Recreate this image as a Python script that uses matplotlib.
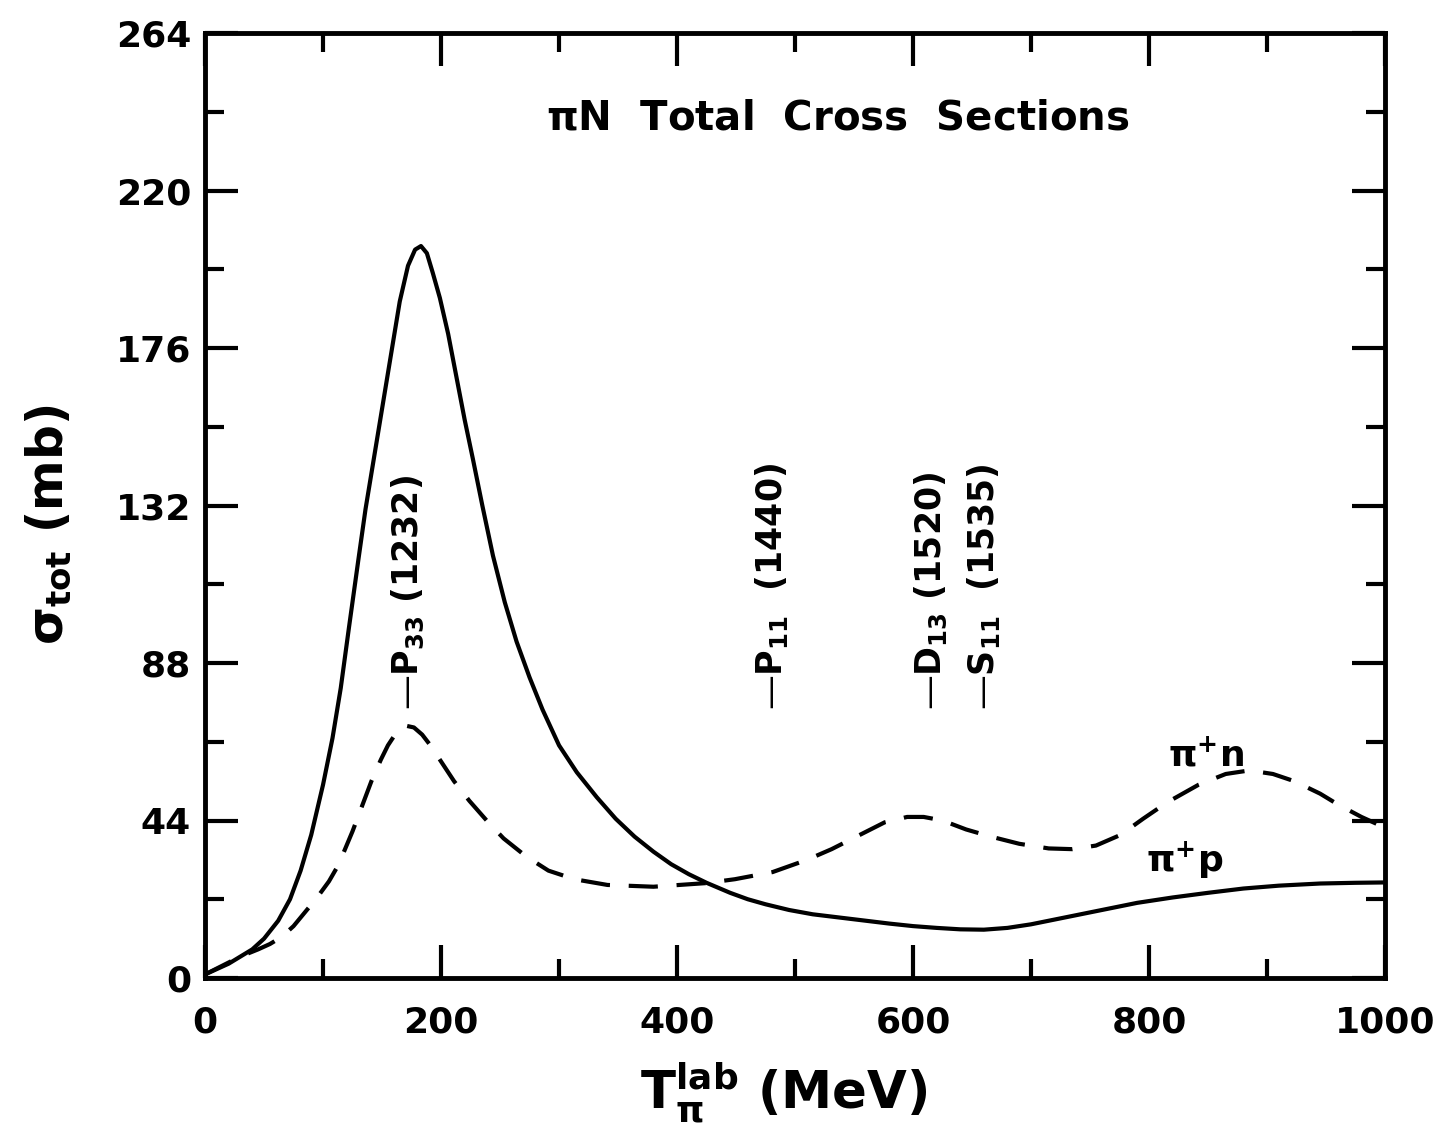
import matplotlib
matplotlib.use("Agg")
import matplotlib.pyplot as plt
from matplotlib.ticker import MultipleLocator

# pi+ p total cross section (solid)
t_pp = [0, 10, 20, 30, 40, 50, 62, 72, 81, 90, 100, 108, 115, 122, 130, 136,
        143, 150, 158, 165, 172, 178, 183, 188, 193, 199, 206, 213, 220, 227,
        235, 244, 254, 264, 275, 286, 300, 315, 332, 348, 364, 380, 395, 410,
        425, 445, 460, 475, 495, 515, 535, 560, 580, 600, 620, 640, 660, 680,
        700, 730, 760, 790, 820, 850, 880, 910, 945, 975, 1000]
sig_pp = [1, 2.5, 4, 6, 8, 11, 16, 22, 30, 40, 54, 67, 81, 98, 117, 131,
          145, 159, 175, 189, 199, 203.5, 204.5, 202.5, 197, 190, 180, 168, 156, 145,
          132, 118, 105, 94, 84, 75, 65, 57.5, 50.5, 44.5, 39.5, 35.3, 31.8, 29,
          26.6, 23.8, 22, 20.6, 19, 17.8, 17, 16, 15.2, 14.5, 14, 13.6, 13.5, 14,
          15, 17, 19, 21, 22.5, 23.8, 25, 25.8, 26.4, 26.6, 26.7]

# pi+ n total cross section (dashed)
t_pn = [0, 15, 30, 45, 55, 65, 75, 85, 95, 105, 112, 118, 125, 133, 141, 149,
        155, 162, 170, 177, 184, 191, 198, 211, 224, 240, 253, 272, 291, 313,
        341, 380, 424, 449, 481, 510, 531, 555, 576, 595, 609, 625, 645, 666,
        690, 715, 735, 755, 776, 795, 815, 842, 865, 885, 905, 923, 945, 960,
        980, 1000]
sig_pn = [1, 3.5, 6, 8, 9.5, 11.5, 14.5, 18.5, 22.5, 27, 31, 35.5, 41, 48, 55, 61,
          65, 68.5, 70.5, 70, 68, 65, 61.5, 55, 49.5, 43.5, 39, 34, 30, 27.6,
          26, 25.5, 26.5, 27.6, 29.6, 33, 36, 40, 43.5, 45, 45, 44, 41.5, 39.5,
          37.5, 36.2, 36, 37, 40, 44.5, 49, 54, 57, 58, 57, 55, 51.5, 48.5,
          45, 42]

# resonance markers
res_names = ["\u2014P$_{33}$ (1232)", "\u2014P$_{11}$  (1440)",
             "\u2014D$_{13}$ (1520)", "\u2014S$_{11}$  (1535)"]
res_t = [172, 480, 615, 660]

plt.rcParams['font.family'] = ['DejaVu Sans']
plt.rcParams['font.weight'] = 'bold'
plt.rcParams['mathtext.fontset'] = 'dejavusans'
plt.rcParams['mathtext.default'] = 'bf'

fig = plt.figure(figsize=(14.45, 11.33), dpi=100)
ax = fig.add_axes([0.1419, 0.1368, 0.8166, 0.834])

ax.plot(t_pp, sig_pp, color='black', lw=3)
ax.plot(t_pn, sig_pn, color='black', lw=3, dashes=(7, 4.5))

ax.set_xlim(0, 1000)
ax.set_ylim(0, 264)
ax.xaxis.set_major_locator(MultipleLocator(200))
ax.xaxis.set_minor_locator(MultipleLocator(100))
ax.yaxis.set_major_locator(MultipleLocator(44))
ax.yaxis.set_minor_locator(MultipleLocator(22))
ax.tick_params(which='both', direction='in', top=True, right=True, width=3,
               labelsize=26)
ax.tick_params(which='major', length=24)
ax.tick_params(which='minor', length=14)
ax.tick_params(axis='x', pad=20)
ax.tick_params(axis='y', pad=10)
for s in ax.spines.values():
    s.set_linewidth(3.5)

ax.set_xlabel(r"$T_{\pi}^{lab}$ (MeV)", fontsize=37, fontweight='bold')
ax.set_ylabel(r"$\sigma_{tot}$ (mb)", fontsize=35, fontweight='bold')
ax.xaxis.set_label_coords(0.49, -0.088)
ax.yaxis.set_label_coords(-0.112, 0.48)

ax.text(536, 240, r"$\pi$N  Total  Cross  Sections", fontsize=29,
        fontweight='bold', ha='center', va='center')

for name, t in zip(res_names, res_t):
    ax.text(t, 75, name, rotation=90, fontsize=25, fontweight='bold',
            ha='center', va='bottom')

ax.text(848, 62, r"$\pi^{+}$n", fontsize=26, ha='center', va='center')
ax.text(830, 33, r"$\pi^{+}$p", fontsize=26, ha='center', va='center')

fig.savefig("out.png", dpi=100)
